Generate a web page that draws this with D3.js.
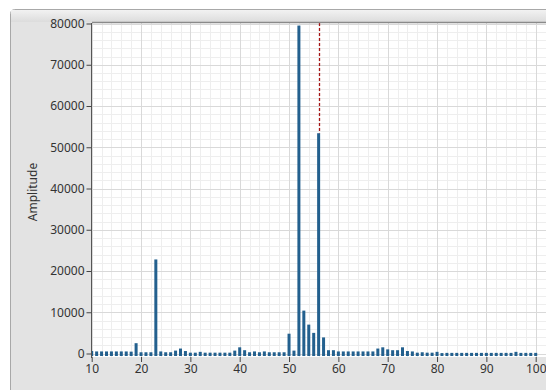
<!DOCTYPE html>
<html><head><meta charset="utf-8">
<script src="https://cdn.jsdelivr.net/npm/d3@7/dist/d3.min.js"></script>
<style>
html,body{margin:0;padding:0;background:#fff;overflow:hidden}
svg{display:block}
</style></head><body>
<svg id="c" width="546" height="390"></svg>
<script>
const frequencies = d3.range(10, 101);
const amplitudes = [
  600, 500, 500, 500, 500, 500, 500, 500, 450, 2500,   // 10-19
  300, 300, 300, 22800, 500, 300, 300, 700, 1200, 600,  // 20-29
  200, 200, 400, 200, 200, 200, 200, 200, 200, 700,     // 30-39
  1500, 800, 300, 500, 300, 500, 300, 300, 300, 300,    // 40-49
  4800, 700, 79500, 10400, 7000, 5000, 53400, 3900, 800, 800, // 50-59
  500, 500, 500, 500, 500, 500, 500, 500, 1200, 1500,   // 60-69
  1000, 800, 800, 1500, 600, 500, 200, 300, 200, 200,   // 70-79
  400, 100, 150, 150, 150, 150, 150, 150, 150, 150,     // 80-89
  150, 150, 150, 150, 150, 150, 400, 150, 150, 150,     // 90-99
  150                                                   // 100
];
const xTicks = [10, 20, 30, 40, 50, 60, 70, 80, 90, 100];
const yTicks = [0, 10000, 20000, 30000, 40000, 50000, 60000, 70000, 80000];
const cursorX = 56;
const yLabel = "Amplitude";

const svg = d3.select("#c");
const L = 92, T = 23, R = 580, B = 357;
const x = d3.scaleLinear().domain([10, 100]).range([91.7, 535.7]);
const y = d3.scaleLinear().domain([0, 80000]).range([353.5, 23.5]);

// panel
const defs = svg.append("defs");
const g1 = defs.append("linearGradient").attr("id","hdr").attr("x1",0).attr("y1",0).attr("x2",0).attr("y2",1);
g1.append("stop").attr("offset","0%").attr("stop-color","#f2f2f2");
g1.append("stop").attr("offset","100%").attr("stop-color","#dcdcdc");
svg.append("rect").attr("x",10.5).attr("y",9.5).attr("width",560).attr("height",400)
  .attr("rx",4).attr("fill","#e3e3e3").attr("stroke","#a8a8a8");
svg.append("rect").attr("x",11).attr("y",10).attr("width",560).attr("height",12).attr("fill","url(#hdr)");
defs.append("clipPath").attr("id","pc").append("rect").attr("x",L).attr("y",T).attr("width",R-L).attr("height",B-T);

// plot background
svg.append("rect").attr("x",L).attr("y",T).attr("width",R-L).attr("height",B-T).attr("fill","#ffffff");

const grid = svg.append("g").attr("clip-path","url(#pc)");
// minor grid
const xMinor = d3.range(2, 112, 2).filter(v => v % 10 !== 0);
const yMinor = d3.range(-2000, 82001, 2000).filter(v => v % 10000 !== 0);
grid.selectAll(".xm").data(xMinor).join("line")
  .attr("x1",d=>Math.round(x(d))+0.5).attr("x2",d=>Math.round(x(d))+0.5).attr("y1",T).attr("y2",B)
  .attr("stroke","#eeeeee");
grid.selectAll(".ym").data(yMinor).join("line")
  .attr("y1",d=>Math.round(y(d))+0.5).attr("y2",d=>Math.round(y(d))+0.5).attr("x1",L).attr("x2",R)
  .attr("stroke","#eeeeee");
grid.selectAll(".xM").data(xTicks.concat([110])).join("line")
  .attr("x1",d=>Math.round(x(d))+0.5).attr("x2",d=>Math.round(x(d))+0.5).attr("y1",T).attr("y2",B)
  .attr("stroke","#d9d9d9");
grid.selectAll(".yM").data(yTicks).join("line")
  .attr("y1",d=>Math.round(y(d))+0.5).attr("y2",d=>Math.round(y(d))+0.5).attr("x1",L).attr("x2",R)
  .attr("stroke","#d9d9d9");

// bars
const bw = 3;
grid.selectAll(".bar").data(frequencies).join("rect")
  .attr("x", d => x(d) - bw/2)
  .attr("width", bw)
  .attr("y", (d,i) => y(amplitudes[i]))
  .attr("height", (d,i) => B - y(amplitudes[i]) - 1)
  .attr("fill", "#23608e");

// cursor line
const ci = frequencies.indexOf(cursorX);
grid.append("line").attr("x1",Math.round(x(cursorX))+0.5).attr("x2",Math.round(x(cursorX))+0.5)
  .attr("y1",T).attr("y2",y(amplitudes[ci]))
  .attr("stroke","#a51515").attr("stroke-width",1.3).attr("stroke-dasharray","3,2");

// top border
svg.append("line").attr("x1",L).attr("x2",R).attr("y1",T-0.5).attr("y2",T-0.5).attr("stroke","#8a8a8a").attr("stroke-width",1.5);

// axes
const yAxis = d3.axisLeft(y).tickValues(yTicks).tickSize(5).tickPadding(2).tickFormat(d3.format("d"));
const ya = svg.append("g").attr("transform",`translate(${L-0.5},0)`).call(yAxis);
ya.select(".domain").attr("d",`M0,${T}V${B+1}`).attr("stroke","#555");
ya.selectAll(".tick line").attr("stroke","#444");
ya.selectAll("text").attr("font-family","'Noto Sans',sans-serif").attr("font-size",12).attr("fill","#333");

const xAxis = d3.axisBottom(x).tickValues(xTicks).tickSize(5).tickPadding(2);
const xa = svg.append("g").attr("transform",`translate(0,${B})`).call(xAxis);
xa.select(".domain").remove();
xa.selectAll(".tick line").attr("stroke","#444");
xa.selectAll("text").attr("font-family","'Noto Sans',sans-serif").attr("font-size",12).attr("fill","#333");

svg.append("text").attr("transform","translate(37,192) rotate(-90)")
  .attr("text-anchor","middle").attr("font-family","'Noto Sans',sans-serif").attr("font-size",12)
  .attr("fill","#333").text(yLabel);
</script></body></html>
